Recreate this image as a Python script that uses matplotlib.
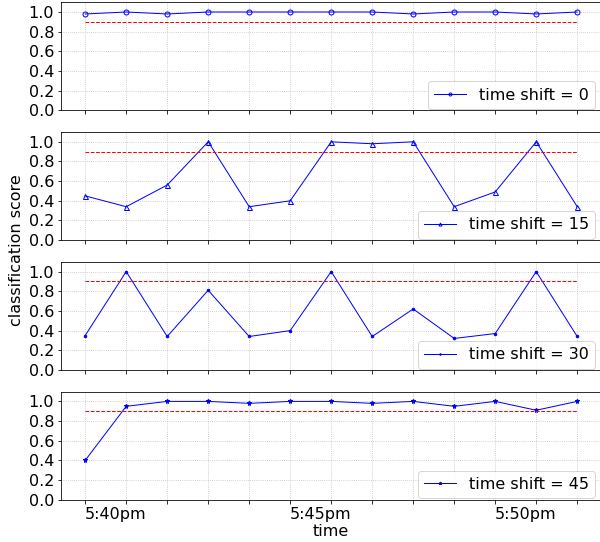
import matplotlib
matplotlib.use('Agg')
import matplotlib.pyplot as plt

# minutes after 5:40pm
minutes = list(range(13))
tick_labels = ['5:40pm', '', '', '', '', '5:45pm', '', '', '', '', '5:50pm', '', '']
threshold = 0.9

shifts = [0, 15, 30, 45]
markers = ['o', '^', '.', '*']
scores_0 = [0.98, 1.0, 0.98, 1.0, 1.0, 1.0, 1.0, 1.0, 0.98, 1.0, 1.0, 0.98, 1.0]
scores_15 = [0.45, 0.34, 0.56, 1.0, 0.34, 0.40, 1.0, 0.98, 1.0, 0.34, 0.49, 1.0, 0.34]
scores_30 = [0.35, 1.0, 0.34, 0.81, 0.34, 0.40, 1.0, 0.34, 0.62, 0.32, 0.37, 1.0, 0.34]
scores_45 = [0.40, 0.95, 1.0, 1.0, 0.98, 1.0, 1.0, 0.98, 1.0, 0.95, 1.0, 0.91, 1.0]
all_scores = [scores_0, scores_15, scores_30, scores_45]

plt.rcParams['font.size'] = 16

fig, axes = plt.subplots(4, 1, figsize=(600 / 72, 542 / 72), dpi=72, sharex=True)
fig.subplots_adjust(left=0.102, right=1.002, bottom=0.078, top=0.996, hspace=0.2)

for ax, shift, mk, scores in zip(axes, shifts, markers, all_scores):
    face = 'none' if mk in ('o', '^') else 'b'
    ax.plot(minutes, scores, color='b', linewidth=1, marker=mk, markersize=5,
            markerfacecolor=face, label='time shift = {}'.format(shift))
    ax.plot([minutes[0], minutes[-1]], [threshold, threshold], 'r--', linewidth=1)
    ax.set_ylim(0, 1.1)
    ax.set_yticks([0, 0.2, 0.4, 0.6, 0.8, 1.0])
    ax.set_xlim(minutes[0] - 0.585, minutes[-1] + 0.585)
    ax.grid(True, linestyle=':', color='#bbbbbb', linewidth=0.8)
    ax.legend(loc='lower right', bbox_to_anchor=(0.989, 0.012), borderaxespad=0,
              fontsize=16, markerscale=0.6)

axes[-1].set_xticks(minutes)
axes[-1].set_xticklabels(tick_labels, ha='left')
axes[-1].set_xlabel('time', labelpad=2)
fig.text(0.027, 0.539, 'classification score', rotation=90, ha='center', va='center', fontsize=16)

fig.savefig('out.png')
